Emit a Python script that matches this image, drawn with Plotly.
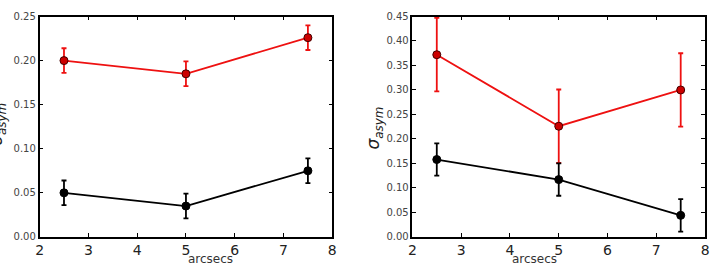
import plotly.graph_objects as go

x_vals = [2.5, 5.0, 7.5]

left_red = [0.200, 0.185, 0.226]
left_red_err = [0.014, 0.014, 0.014]
left_black = [0.050, 0.035, 0.075]
left_black_err = [0.014, 0.014, 0.014]

right_red = [0.372, 0.226, 0.300]
right_red_err = [0.075, 0.075, 0.075]
right_black = [0.158, 0.117, 0.044]
right_black_err = [0.033, 0.033, 0.033]

left_yticks = [0.00, 0.05, 0.10, 0.15, 0.20, 0.25]
right_yticks = [0.00, 0.05, 0.10, 0.15, 0.20, 0.25, 0.30, 0.35, 0.40, 0.45]
x_ticks = [2, 3, 4, 5, 6, 7, 8]

W, H = 717, 264
fig = go.Figure()

def add_series(xa, ya, y, err, color, fill, edge):
    fig.add_trace(go.Scatter(
        x=x_vals, y=y, xaxis=xa, yaxis=ya, mode="lines+markers",
        line=dict(color=color, width=1.8),
        marker=dict(size=8, color=fill, line=dict(color=edge, width=1)),
        error_y=dict(type="data", array=err, visible=True, color=color,
                     thickness=1.8, width=2.5),
        showlegend=False, cliponaxis=False))

add_series("x", "y", left_red, left_red_err, "#ee1111", "#cc0000", "#440000")
add_series("x", "y", left_black, left_black_err, "#000000", "#000000", "#000000")
add_series("x2", "y2", right_red, right_red_err, "#ee1111", "#cc0000", "#440000")
add_series("x2", "y2", right_black, right_black_err, "#000000", "#000000", "#000000")

ax_common = dict(showline=True, linecolor="black", linewidth=1.5, mirror="ticks",
                 ticks="inside", ticklen=4, tickwidth=1, tickcolor="black",
                 showgrid=False, zeroline=False)

fig.update_layout(
    width=W, height=H, margin=dict(l=0, r=0, t=0, b=0),
    plot_bgcolor="white", paper_bgcolor="white",
    font=dict(family="DejaVu Sans", color="#333333"),
    xaxis=dict(domain=[36/W, 332/W], range=[2, 8], tickvals=x_ticks,
               tickfont=dict(size=14, color="#222222"), anchor="y", **ax_common),
    yaxis=dict(domain=[22/H, 252/H], range=[0, 0.25], tickvals=left_yticks,
               tickformat=".2f", tickfont=dict(size=10, color="#444444"), anchor="x", **ax_common),
    xaxis2=dict(domain=[413/W, 709/W], range=[2, 8], tickvals=x_ticks,
                tickfont=dict(size=14, color="#222222"), anchor="y2", **ax_common),
    yaxis2=dict(domain=[22/H, 252/H], range=[0, 0.45], tickvals=right_yticks,
                tickformat=".2f", tickfont=dict(size=10, color="#444444"), anchor="x2", **ax_common),
)

fig.add_annotation(text="arcsecs", xref="paper", yref="paper",
                   x=184/W, y=(H-256)/H, yanchor="top", showarrow=False,
                   font=dict(size=12, color="#333333"))
fig.add_annotation(text="arcsecs", xref="paper", yref="paper",
                   x=561/W, y=(H-256)/H, yanchor="top", showarrow=False,
                   font=dict(size=12, color="#333333"))
fig.add_annotation(text="<i>σ<sub>asym</sub></i>", xref="paper", yref="paper",
                   x=375/W, y=(H-128)/H, textangle=-90, showarrow=False,
                   font=dict(size=17, color="#222222"))
fig.add_annotation(text="<i>σ<sub>asym</sub></i>", xref="paper", yref="paper",
                   x=-6/W, y=(H-125)/H, xanchor="center", textangle=-90, showarrow=False,
                   font=dict(size=17, color="#222222"))

fig.write_html("out.html")
